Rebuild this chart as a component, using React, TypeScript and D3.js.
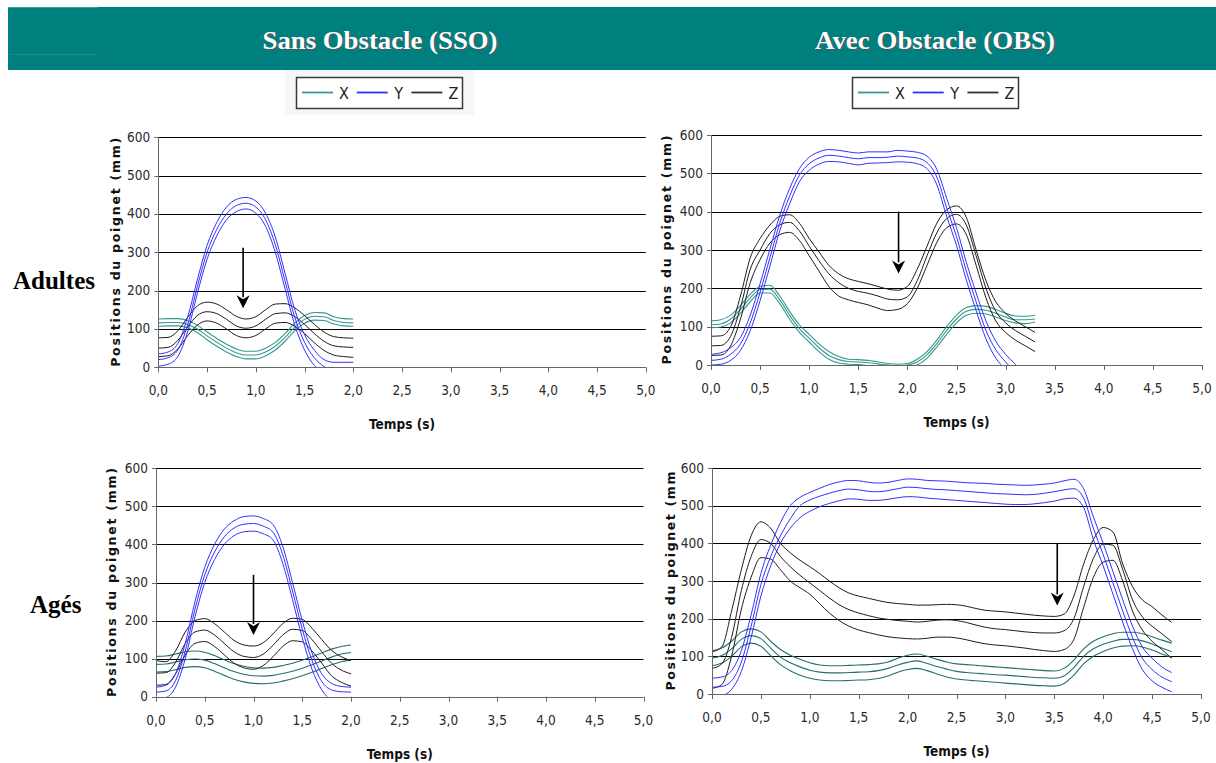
import React from "react";
import * as d3 from "d3";

const W = 1216;
const H = 763;

// ---------- time bases (s) ----------
const tSSO = [0, 0.1, 0.2, 0.3, 0.4, 0.5, 0.6, 0.7, 0.8, 0.9, 1.0, 1.1, 1.2, 1.3, 1.4, 1.5, 1.6, 1.7, 1.8, 1.9, 2.0];
const tOBSadultes = [0, 0.1, 0.2, 0.3, 0.4, 0.5, 0.6, 0.7, 0.8, 0.9, 1.0, 1.1, 1.2, 1.3, 1.4, 1.5, 1.6, 1.7, 1.8, 1.9, 2.0, 2.1, 2.2, 2.3, 2.4, 2.5, 2.6, 2.7, 2.8, 2.9, 3.0, 3.1, 3.2, 3.3];
const tOBSages = [0, 0.1, 0.2, 0.3, 0.4, 0.5, 0.6, 0.7, 0.8, 0.9, 1.0, 1.1, 1.2, 1.3, 1.4, 1.5, 1.6, 1.7, 1.8, 1.9, 2.0, 2.1, 2.2, 2.3, 2.4, 2.5, 2.6, 2.7, 2.8, 2.9, 3.0, 3.1, 3.2, 3.3, 3.4, 3.5, 3.6, 3.7, 3.8, 3.9, 4.0, 4.1, 4.2, 4.3, 4.4, 4.5, 4.6, 4.7];

// ---------- Adultes, sans obstacle (upper / mean / lower) ----------
const adSsoY = [
  [35, 40, 62, 130, 228, 318, 378, 418, 438, 443, 434, 402, 340, 245, 150, 85, 45, 20, 13, 13, 13],
  [20, 25, 45, 110, 210, 300, 360, 400, 422, 428, 418, 385, 320, 225, 130, 65, 25, 2, -10, -15, -15],
  [3, 8, 28, 92, 192, 282, 343, 385, 406, 413, 402, 368, 300, 205, 110, 45, 5, -15, -30, -30, -30],
];
const adSsoZ = [
  [77, 78, 95, 130, 160, 170, 165, 150, 133, 126, 132, 150, 165, 166, 155, 135, 112, 92, 80, 77, 76],
  [50, 52, 70, 105, 135, 145, 140, 125, 108, 102, 108, 125, 140, 142, 132, 112, 88, 68, 56, 53, 52],
  [28, 30, 48, 82, 110, 121, 115, 100, 83, 77, 83, 100, 115, 117, 107, 88, 64, 44, 32, 28, 26],
];
const adSsoX = [
  [126, 127, 127, 122, 110, 92, 75, 60, 48, 42, 42, 50, 65, 88, 115, 135, 143, 142, 132, 127, 126],
  [116, 117, 117, 112, 100, 82, 65, 50, 38, 32, 32, 40, 55, 78, 105, 125, 133, 132, 122, 117, 116],
  [107, 108, 108, 103, 91, 72, 55, 40, 28, 22, 22, 30, 45, 68, 95, 115, 123, 122, 113, 108, 107],
];

// ---------- Adultes, avec obstacle ----------
const adObsY = [
  [28, 32, 45, 72, 130, 212, 302, 390, 460, 512, 542, 556, 562, 560, 556, 553, 556, 556, 556, 560, 558, 555, 545, 510, 435, 358, 268, 188, 115, 62, 28, 2, -25, -50],
  [12, 15, 28, 55, 110, 190, 280, 370, 440, 495, 525, 540, 547, 545, 541, 538, 541, 541, 542, 545, 543, 540, 528, 490, 410, 335, 245, 165, 90, 40, 8, -20, -45, -70],
  [0, 2, 12, 38, 90, 168, 258, 350, 420, 478, 508, 524, 531, 530, 526, 522, 526, 527, 528, 530, 529, 525, 512, 470, 388, 312, 222, 142, 68, 18, -12, -40, -65, -90],
];
const adObsZ = [
  [75, 76, 100, 180, 280, 330, 365, 388, 392, 370, 330, 295, 260, 238, 225, 218, 212, 205, 198, 195, 205, 250, 310, 370, 405, 415, 385, 300, 220, 165, 135, 115, 100, 85],
  [50, 51, 75, 150, 250, 300, 343, 366, 372, 350, 310, 272, 238, 215, 200, 192, 187, 180, 172, 170, 178, 220, 285, 345, 382, 393, 365, 285, 200, 140, 110, 90, 75, 60],
  [25, 26, 50, 120, 215, 275, 318, 340, 346, 325, 285, 245, 205, 180, 170, 163, 157, 148, 142, 145, 160, 200, 260, 320, 358, 368, 340, 260, 175, 115, 85, 65, 50, 35],
];
const adObsX = [
  [115, 118, 130, 155, 185, 205, 208, 180, 140, 105, 80, 55, 35, 22, 15, 14, 12, 8, 4, 2, 4, 15, 35, 65, 100, 130, 150, 155, 153, 145, 135, 128, 127, 130],
  [105, 107, 120, 145, 175, 197, 198, 170, 130, 95, 70, 45, 25, 14, 9, 8, 6, 3, 0, -2, 0, 8, 27, 56, 90, 120, 140, 145, 143, 135, 125, 118, 118, 120],
  [97, 99, 110, 135, 165, 188, 188, 160, 120, 85, 60, 35, 15, 5, 2, 1, -2, -5, -8, -10, -8, 0, 18, 47, 80, 110, 130, 135, 133, 125, 116, 110, 108, 112],
];

// ---------- Agés, sans obstacle ----------
const agSsoY = [
  [25, 30, 60, 140, 250, 340, 400, 440, 462, 473, 475, 468, 452, 395, 300, 200, 115, 60, 35, 27, 25],
  [12, 15, 42, 120, 230, 320, 380, 420, 443, 453, 455, 448, 432, 373, 278, 178, 95, 40, 18, 13, 12],
  [-5, -2, 25, 100, 210, 300, 360, 400, 423, 433, 435, 428, 412, 350, 255, 155, 72, 18, -10, -20, -25],
];
const agSsoZ = [
  [95, 92, 120, 170, 200, 205, 192, 170, 148, 136, 133, 142, 165, 192, 206, 203, 180, 150, 122, 105, 95],
  [62, 63, 90, 140, 170, 175, 162, 140, 118, 106, 103, 112, 135, 162, 177, 174, 150, 118, 88, 70, 60],
  [30, 32, 60, 110, 140, 145, 132, 110, 88, 76, 72, 82, 105, 132, 147, 144, 120, 88, 55, 38, 28],
];
const agSsoX = [
  [106, 107, 112, 118, 120, 117, 108, 97, 87, 80, 76, 75, 77, 82, 88, 96, 105, 115, 125, 132, 136],
  [85, 86, 91, 97, 99, 96, 87, 76, 66, 59, 55, 54, 56, 61, 67, 75, 84, 94, 104, 112, 116],
  [65, 66, 71, 77, 79, 76, 67, 56, 46, 39, 35, 34, 36, 41, 47, 55, 64, 74, 84, 92, 96],
];

// ---------- Agés, avec obstacle ----------
const agObsY = [
  [42, 45, 62, 115, 210, 320, 395, 455, 500, 522, 535, 546, 556, 563, 567, 566, 562, 560, 562, 567, 571, 570, 567, 566, 565, 563, 561, 560, 559, 557, 556, 555, 554, 555, 557, 560, 566, 570, 545, 470, 400, 325, 250, 180, 125, 95, 72, 57],
  [18, 20, 35, 85, 180, 290, 365, 420, 465, 500, 515, 525, 533, 540, 544, 542, 538, 537, 540, 545, 549, 548, 545, 543, 542, 540, 538, 536, 534, 532, 531, 530, 529, 530, 533, 537, 542, 545, 520, 440, 370, 295, 220, 150, 95, 65, 45, 33],
  [-10, -5, 12, 60, 150, 260, 340, 400, 440, 468, 485, 497, 506, 513, 518, 517, 514, 514, 517, 521, 524, 523, 520, 518, 516, 514, 512, 510, 508, 506, 504, 503, 503, 505, 508, 512, 518, 520, 495, 410, 340, 265, 190, 120, 65, 35, 18, 6],
];
const agObsZ = [
  [112, 125, 220, 330, 420, 457, 440, 400, 375, 355, 338, 320, 300, 282, 268, 260, 254, 248, 243, 240, 238, 236, 236, 237, 238, 237, 233, 227, 222, 220, 218, 215, 212, 209, 207, 206, 212, 260, 345, 410, 442, 430, 345, 285, 250, 232, 210, 190],
  [68, 80, 150, 275, 365, 410, 400, 365, 338, 315, 295, 275, 255, 237, 224, 215, 208, 202, 198, 195, 193, 191, 193, 196, 197, 195, 190, 183, 177, 173, 171, 168, 165, 163, 162, 162, 168, 200, 285, 360, 398, 395, 330, 250, 205, 180, 160, 139],
  [15, 25, 100, 225, 310, 362, 358, 330, 300, 282, 265, 240, 215, 195, 180, 170, 163, 157, 152, 149, 147, 146, 148, 151, 151, 149, 144, 138, 133, 130, 128, 125, 122, 118, 115, 113, 118, 145, 230, 310, 350, 355, 300, 220, 170, 140, 118, 95],
];
const agObsX = [
  [115, 122, 140, 165, 173, 165, 140, 118, 103, 92, 83, 77, 75, 75, 76, 77, 78, 80, 85, 95, 103, 106, 100, 92, 85, 80, 78, 76, 74, 72, 70, 68, 66, 64, 62, 61, 68, 90, 120, 140, 152, 160, 164, 164, 160, 152, 143, 135],
  [95, 102, 120, 145, 155, 147, 122, 98, 83, 72, 63, 58, 56, 56, 57, 58, 59, 62, 68, 77, 84, 88, 81, 73, 66, 60, 57, 55, 53, 51, 50, 48, 46, 44, 43, 42, 48, 70, 100, 120, 132, 140, 145, 145, 141, 133, 122, 112],
  [75, 82, 100, 125, 135, 127, 102, 78, 62, 50, 42, 37, 35, 35, 36, 37, 38, 41, 48, 58, 65, 68, 62, 53, 45, 40, 37, 35, 33, 31, 29, 27, 25, 23, 22, 21, 28, 50, 80, 100, 113, 122, 127, 128, 125, 117, 106, 97],
];

// ---------- axes ----------
const yTicks = [0, 100, 200, 300, 400, 500, 600];
const xTicks = [0, 0.5, 1, 1.5, 2, 2.5, 3, 3.5, 4, 4.5, 5];
const columnTitles = ["Sans Obstacle (SSO)", "Avec Obstacle (OBS)"];
const rowLabels = ["Adultes", "Agés"];
const legendItems = ["X", "Y", "Z"];

const BLUE = "#3030ff";
const BLACK = "#1c1c1c";
const TEAL_TOP = "#36988f";
const TEAL_BOT = "#23706a";

type Panel = {
  id: string;
  x0: number; x1: number; y0: number; y1: number;
  t: number[];
  X: number[][]; Y: number[][]; Z: number[][];
  teal: string;
  ylabel: string;
  ylabelX: number;
  arrow: { t: number; from: number; to: number };
};

const panels: Panel[] = [
  { id: "p1", x0: 158.3, x1: 645.8, y0: 367.3, y1: 137.3, t: tSSO, X: adSsoX, Y: adSsoY, Z: adSsoZ, teal: TEAL_TOP, ylabel: "Positions du poignet (mm)", ylabelX: 120, arrow: { t: 0.87, from: 312, to: 154 } },
  { id: "p2", x0: 711, x1: 1202, y0: 365, y1: 135, t: tOBSadultes, X: adObsX, Y: adObsY, Z: adObsZ, teal: TEAL_TOP, ylabel: "Positions du poignet (mm)", ylabelX: 671, arrow: { t: 1.91, from: 400, to: 239 } },
  { id: "p3", x0: 156, x1: 643.5, y0: 696.7, y1: 468.3, t: tSSO, X: agSsoX, Y: agSsoY, Z: agSsoZ, teal: TEAL_BOT, ylabel: "Positions du poignet (mm)", ylabelX: 116, arrow: { t: 1.0, from: 320, to: 162 } },
  { id: "p4", x0: 712, x1: 1201, y0: 694, y1: 468, t: tOBSages, X: agObsX, Y: agObsY, Z: agObsZ, teal: TEAL_BOT, ylabel: "Positions du poignet (mm", ylabelX: 675, arrow: { t: 3.53, from: 400, to: 235 } },
];

const tickFont = "'Liberation Sans Narrow', 'Arial Narrow', 'DejaVu Sans Condensed', 'Liberation Sans', sans-serif";

function fmtX(v: number) {
  return d3.format(".1f")(v).replace(".", ",");
}

function ChartPanel({ p }: { p: Panel }) {
  const x = d3.scaleLinear().domain([0, 5]).range([p.x0, p.x1]);
  const y = d3.scaleLinear().domain([0, 600]).range([p.y0, p.y1]);
  const line = d3
    .line<number>()
    .x((_, i) => x(p.t[i]))
    .y((v) => y(v))
    .curve(d3.curveMonotoneX);
  const clipId = "clip-" + p.id;
  const ax = x(p.arrow.t);
  const ayTop = y(p.arrow.from);
  const ayTip = y(p.arrow.to);
  const headH = 13;
  const headW = 6.5;
  return (
    <g>
      <defs>
        <clipPath id={clipId}>
          <rect x={p.x0} y={p.y1 - 2} width={p.x1 - p.x0} height={p.y0 - p.y1 + 2} />
        </clipPath>
      </defs>
      {yTicks.filter((v) => v > 0).map((v) => (
        <line key={"g" + v} x1={p.x0} x2={p.x1} y1={Math.round(y(v)) + 0.5} y2={Math.round(y(v)) + 0.5} stroke="#000" strokeWidth={1} />
      ))}
      <g clipPath={`url(#${clipId})`} fill="none">
        {p.X.map((s, i) => (
          <path key={"x" + i} d={line(s) || ""} stroke={p.teal} strokeWidth={1.1} />
        ))}
        {p.Z.map((s, i) => (
          <path key={"z" + i} d={line(s) || ""} stroke={BLACK} strokeWidth={1} />
        ))}
        {p.Y.map((s, i) => (
          <path key={"y" + i} d={line(s) || ""} stroke={BLUE} strokeWidth={1} />
        ))}
      </g>
      <line x1={Math.round(p.x0) + 0.5} x2={Math.round(p.x0) + 0.5} y1={p.y1} y2={p.y0} stroke="#666" strokeWidth={1} />
      <line x1={p.x0} x2={p.x1} y1={Math.round(p.y0) + 0.5} y2={Math.round(p.y0) + 0.5} stroke="#666" strokeWidth={1} />
      {yTicks.map((v) => (
        <g key={"yt" + v}>
          <line x1={p.x0 - 4} x2={p.x0} y1={Math.round(y(v)) + 0.5} y2={Math.round(y(v)) + 0.5} stroke="#666" />
          <text x={p.x0 - 8} y={y(v) + 4.5} textAnchor="end" fontFamily={tickFont} fontSize={13.5} fill="#2a2a2a">
            {v}
          </text>
        </g>
      ))}
      {xTicks.map((v) => (
        <g key={"xt" + v}>
          <line x1={Math.round(x(v)) + 0.5} x2={Math.round(x(v)) + 0.5} y1={p.y0} y2={p.y0 + 5} stroke="#666" />
          <text x={x(v)} y={p.y0 + 28} textAnchor="middle" fontFamily={tickFont} fontSize={13.5} fill="#2a2a2a">
            {fmtX(v)}
          </text>
        </g>
      ))}
      <text x={(p.x0 + p.x1) / 2} y={p.y0 + 62} textAnchor="middle" fontFamily={tickFont} fontWeight="bold" fontSize={13.5} fill="#111">
        Temps (s)
      </text>
      <text
        transform={`translate(${p.ylabelX},${(p.y0 + p.y1) / 2}) rotate(-90)`}
        textAnchor="middle"
        fontFamily="'DejaVu Sans', Verdana, sans-serif"
        fontWeight="bold"
        fontSize={12.5}
        textLength={p.ylabel.endsWith(")") ? 229 : 219}
        lengthAdjust="spacing"
        fill="#111"
      >
        {p.ylabel}
      </text>
      <line x1={ax} x2={ax} y1={ayTop} y2={ayTip - headH + 2} stroke="#000" strokeWidth={1.6} />
      <path d={`M${ax - headW},${ayTip - headH} L${ax},${ayTip - headH + 4} L${ax + headW},${ayTip - headH} L${ax},${ayTip} Z`} fill="#000" />
    </g>
  );
}

function Legend({ x0, bg }: { x0: number; bg: boolean }) {
  const colors = [TEAL_TOP, BLUE, "#333"];
  return (
    <g>
      {bg && <rect x={x0 - 11} y={70} width={189} height={45} fill="#f7f7f7" />}
      <rect x={x0 + 0.5} y={77.5} width={166} height={31} fill="#fff" stroke="#3a3a3a" strokeWidth={1.5} />
      {legendItems.map((k, i) => {
        const lx = x0 + 6 + i * 54.7;
        return (
          <g key={k}>
            <line x1={lx} x2={lx + 31} y1={92.5} y2={92.5} stroke={colors[i]} strokeWidth={1.8} />
            <text x={lx + 42} y={98.5} textAnchor="middle" fontFamily={tickFont} fontSize={16} fill="#222">
              {k}
            </text>
          </g>
        );
      })}
    </g>
  );
}

export default function App() {
  return (
    <svg width={W} height={H} style={{ position: "absolute", left: 0, top: 0, background: "#fff" }}>
      <rect x={8} y={7} width={W - 8} height={63} fill="#007f7f" />
      <line x1={8} x2={98} y1={7.5} y2={7.5} stroke="#3f9d9d" />
      <line x1={10} x2={98} y1={54.5} y2={54.5} stroke="#1f8a8a" />
      {columnTitles.map((t, i) => {
        const cx = i === 0 ? 380 : 935;
        const len = i === 0 ? 235 : 240;
        return (
          <g key={t}>
            <text x={cx + 1.2} y={50.2} textAnchor="middle" fontFamily="'Liberation Serif', 'Times New Roman', serif" fontWeight="bold" fontSize={26} textLength={len} lengthAdjust="spacingAndGlyphs" fill="#555">
              {t}
            </text>
            <text x={cx} y={49} textAnchor="middle" fontFamily="'Liberation Serif', 'Times New Roman', serif" fontWeight="bold" fontSize={26} textLength={len} lengthAdjust="spacingAndGlyphs" fill="#fff">
              {t}
            </text>
          </g>
        );
      })}
      <Legend x0={296} bg={true} />
      <Legend x0={852} bg={false} />
      <text x={13} y={289} fontFamily="'Liberation Serif', 'Times New Roman', serif" fontWeight="bold" fontSize={25} fill="#000">
        {rowLabels[0]}
      </text>
      <text x={30} y={613} fontFamily="'Liberation Serif', 'Times New Roman', serif" fontWeight="bold" fontSize={25} fill="#000">
        {rowLabels[1]}
      </text>
      {panels.map((p) => (
        <ChartPanel key={p.id} p={p} />
      ))}
    </svg>
  );
}
